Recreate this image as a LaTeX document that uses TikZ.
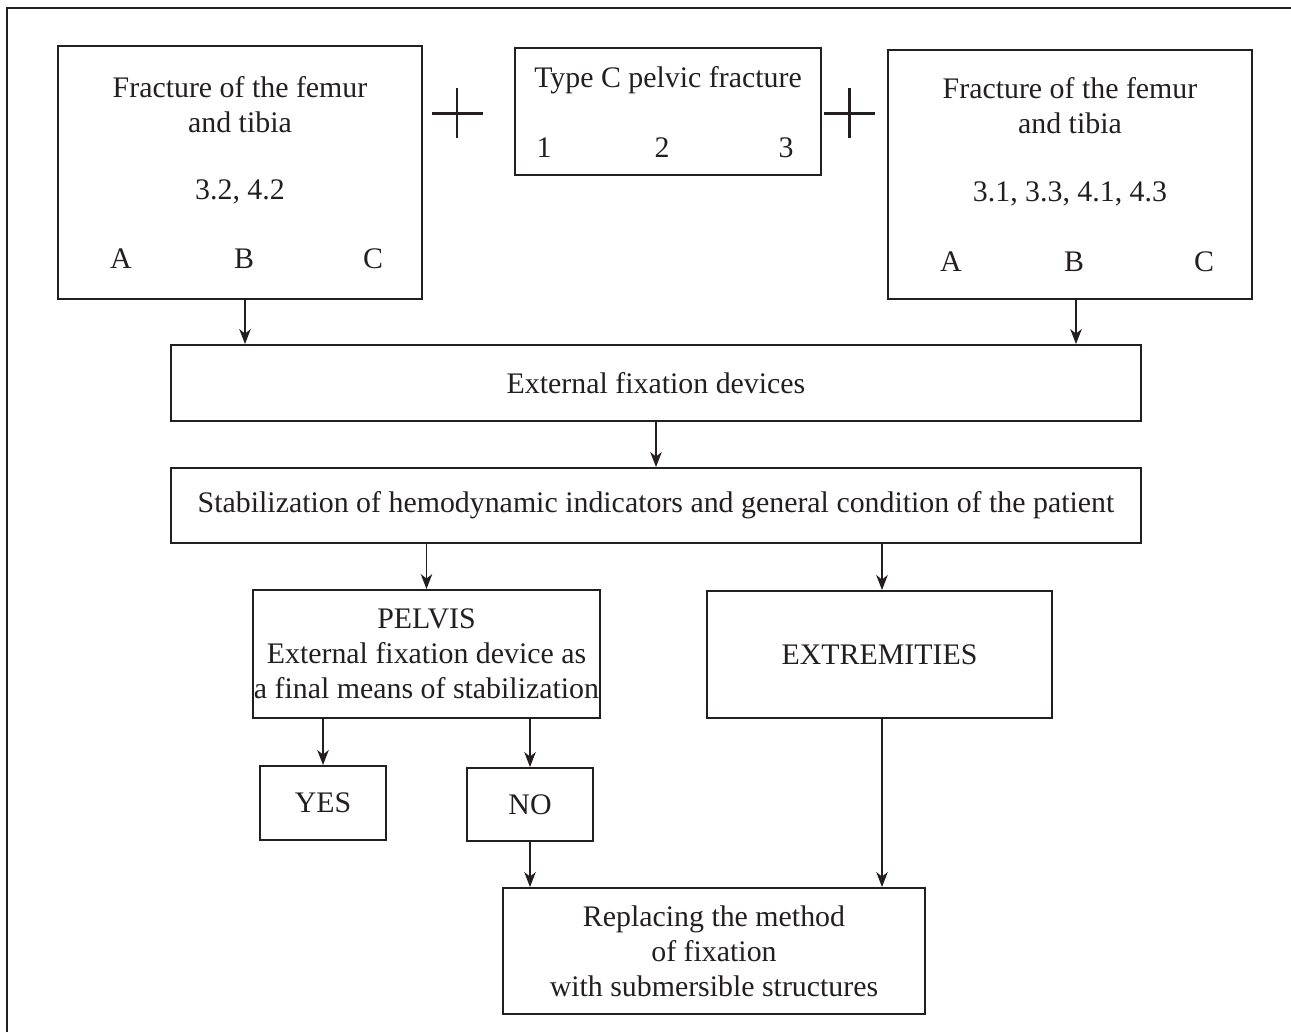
\documentclass[tikz,border=0pt]{standalone}
\usepackage{fontspec}
\setmainfont{Liberation Serif}
\usepackage{tikz}
\usetikzlibrary{arrows.meta}

\definecolor{ink}{HTML}{231F20}

\tikzset{
  box/.style={draw=ink,line width=1.1pt,inner sep=0pt,align=center,text=ink},
  lbl/.style={inner sep=0pt,align=center,text=ink},
  arr/.style={-{Stealth[length=3mm,width=2.3mm,inset=0.9mm]},draw=ink,line width=0.8pt},
  plus/.style={draw=ink,line width=1.7pt},
}

\begin{document}
\begin{tikzpicture}[x=0.02cm,y=-0.02cm,font=\fontsize{17}{20}\selectfont]
  \useasboundingbox (0,0) rectangle (1291,1032);
  % Frame
  \draw[ink,line width=1.1pt] (7,1032) -- (7,8) -- (1291,8);

  % Top row
  \node[box,minimum width=7.28cm,minimum height=5.06cm] (femurL) at (240,172.5) {};
  \node[box,minimum width=6.12cm,minimum height=2.54cm] (pelvicC) at (668,111.5) {};
  \node[box,minimum width=7.28cm,minimum height=4.98cm] (femurR) at (1070,174.5) {};

  \node[lbl] (femurLt) at (240,105) {Fracture of the femur\\and tibia};
  \node[lbl] (femurLn) at (240,192) {3.2, 4.2};
  \foreach \x/\lab in {121/A,244/B,373/C} \node[lbl] (femurL\lab) at (\x,259) {\lab};

  \node[lbl] (pelvicCt) at (668,80) {Type C pelvic fracture};
  \foreach \x/\lab in {544/1,662/2,786/3} \node[lbl] (pelvicC\lab) at (\x,148) {\lab};

  \node[lbl] (femurRt) at (1070,106) {Fracture of the femur\\and tibia};
  \node[lbl] (femurRn) at (1070,194) {3.1, 3.3, 4.1, 4.3};
  \foreach \x/\lab in {951/A,1074/B,1204/C} \node[lbl] (femurR\lab) at (\x,262) {\lab};

  % Plus signs
  \draw[plus] (432,113) -- (483,113) (457,88) -- (457,138);
  \draw[plus] (824,113) -- (875,113) (849,88) -- (849,138);

  % Middle
  \node[box,minimum width=19.4cm,minimum height=1.52cm] (extfix) at (656,383) {External fixation devices};
  \node[box,minimum width=19.4cm,minimum height=1.5cm] (stab) at (656,505.5)
    {Stabilization of hemodynamic indicators and general condition of the patient};

  \node[box,minimum width=6.94cm,minimum height=2.56cm] (pelvis) at (426.5,654)
    {PELVIS\\External fixation device as\\a final means of stabilization};
  \node[box,minimum width=6.9cm,minimum height=2.54cm] (extrem) at (879.5,654.5) {EXTREMITIES};

  \node[box,minimum width=2.52cm,minimum height=1.48cm] (yes) at (323,803) {YES};
  \node[box,minimum width=2.52cm,minimum height=1.46cm] (no) at (530,804.5) {NO};

  \node[box,minimum width=8.44cm,minimum height=2.52cm] (repl) at (714,951)
    {Replacing the method\\of fixation\\with submersible structures};

  % Arrows
  \draw[arr] ([xshift=0.1cm]femurL.south) -- ([xshift=0.1cm]femurL.south |- extfix.north);
  \draw[arr] ([xshift=0.12cm]femurR.south) -- ([xshift=0.12cm]femurR.south |- extfix.north);
  \draw[arr] (extfix) -- (stab);
  \draw[arr] (pelvis.north |- stab.south) -- (pelvis.north);
  \draw[arr] ([xshift=0.05cm]extrem.north |- stab.south) -- ([xshift=0.05cm]extrem.north);
  \draw[arr] (yes.north |- pelvis.south) -- (yes.north);
  \draw[arr] (no.north |- pelvis.south) -- (no.north);
  \draw[arr] (no.south) -- (no.south |- repl.north);
  \draw[arr] ([xshift=0.05cm]extrem.south) -- ([xshift=0.05cm]extrem.south |- repl.north);
\end{tikzpicture}
\end{document}
